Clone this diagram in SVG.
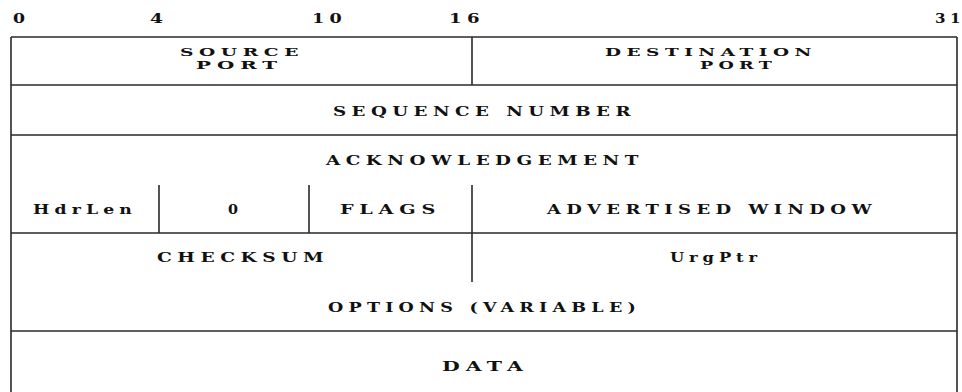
<svg xmlns="http://www.w3.org/2000/svg" width="962" height="392" viewBox="0 0 962 392">
<style>
.ln{stroke:#2a2a2a;stroke-width:1.6;fill:none}
.t{font-family:"DejaVu Serif","Liberation Serif",serif;font-weight:bold;font-size:13px;letter-spacing:0.3em;fill:#111}
.s{letter-spacing:0}
.p{font-size:11px}
</style>
<rect width="962" height="392" fill="#fff"/>
<g id="bit-scale">
<text class="t s" x="13" y="23" textLength="12" lengthAdjust="spacingAndGlyphs">0</text>
<text class="t s" x="150" y="23" textLength="13" lengthAdjust="spacingAndGlyphs">4</text>
<text class="t" x="312" y="23" textLength="35" lengthAdjust="spacingAndGlyphs">10</text>
<text class="t" x="449" y="23" textLength="36" lengthAdjust="spacingAndGlyphs">16</text>
<text class="t" x="935" y="23" textLength="30" lengthAdjust="spacingAndGlyphs">31</text>
</g>
<g id="grid">
<path class="ln" d="M11 37H957M11 37V392M957 37V392M11 85H957M11 135H957M11 233H957M11 331H957M472 37V85M472 185V282M159 185V233M309 185V233"/>
</g>
<g id="source-port">
<text class="t p" x="180" y="56" textLength="124" lengthAdjust="spacingAndGlyphs">SOURCE</text>
<text class="t p" x="196" y="69" textLength="87" lengthAdjust="spacingAndGlyphs">PORT</text>
</g>
<g id="destination-port">
<text class="t p" x="605" y="56" textLength="212" lengthAdjust="spacingAndGlyphs">DESTINATION</text>
<text class="t p" x="700" y="69" textLength="77" lengthAdjust="spacingAndGlyphs">PORT</text>
</g>
<g id="sequence-number">
<text class="t" x="333" y="116" textLength="303" lengthAdjust="spacingAndGlyphs">SEQUENCE NUMBER</text>
</g>
<g id="acknowledgement">
<text class="t" x="326" y="165" textLength="318" lengthAdjust="spacingAndGlyphs">ACKNOWLEDGEMENT</text>
</g>
<g id="hdrlen">
<text class="t" x="33" y="214" textLength="104" lengthAdjust="spacingAndGlyphs">HdrLen</text>
</g>
<g id="reserved">
<text class="t s" x="228" y="214" textLength="10" lengthAdjust="spacingAndGlyphs">0</text>
</g>
<g id="flags">
<text class="t" x="340" y="214" textLength="101" lengthAdjust="spacingAndGlyphs">FLAGS</text>
</g>
<g id="advertised-window">
<text class="t" x="547" y="214" textLength="330" lengthAdjust="spacingAndGlyphs">ADVERTISED WINDOW</text>
</g>
<g id="checksum">
<text class="t" x="157" y="262" textLength="172" lengthAdjust="spacingAndGlyphs">CHECKSUM</text>
</g>
<g id="urgptr">
<text class="t" x="670" y="262" textLength="92" lengthAdjust="spacingAndGlyphs">UrgPtr</text>
</g>
<g id="options">
<text class="t" x="328" y="312" textLength="313" lengthAdjust="spacingAndGlyphs">OPTIONS (VARIABLE)</text>
</g>
<g id="data">
<text class="t" x="442" y="371" textLength="87" lengthAdjust="spacingAndGlyphs">DATA</text>
</g>
</svg>
